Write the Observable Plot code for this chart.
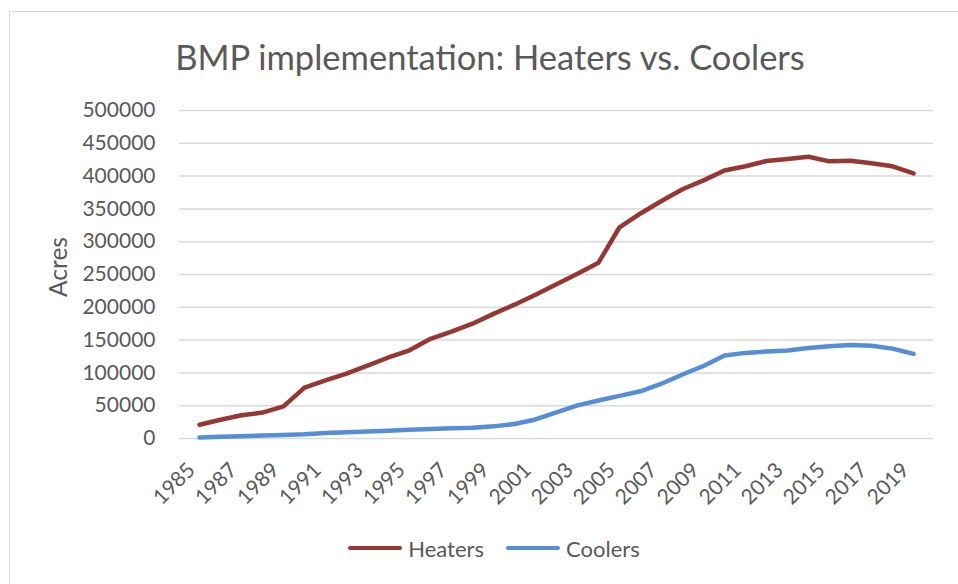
<!DOCTYPE html>
<html>
<head>
<meta charset="utf-8">
<script src="https://cdn.jsdelivr.net/npm/d3@7"></script>
<script src="https://cdn.jsdelivr.net/npm/@observablehq/plot@0.6"></script>
<style>
  html, body { margin: 0; padding: 0; background: #fff; }
  body { width: 958px; height: 584px; overflow: hidden; position: relative; font-family: Lato, sans-serif; color: #595959; }
  #border { position: absolute; left: 9px; top: 11px; width: 1000px; height: 1000px; border: 1px solid #D9D9D9; box-sizing: border-box; }
  #title { position: relative; height: 88px; text-align: center; font-size: 34.5px; line-height: 1; padding-left: 22px; box-sizing: border-box; padding-top: 40px; white-space: nowrap; }
  #chart { position: relative; height: 440px; }
  #legend { position: relative; height: 56px; display: flex; justify-content: center; align-items: center; font-size: 22px; gap: 22px; padding-left: 30px; box-sizing: border-box; padding-bottom: 16px; }
  .item { display: flex; align-items: center; gap: 6px; }
  .sw { display: inline-block; width: 54px; height: 4px; border-radius: 2px; }
  #ylabel { position: absolute; left: 57.5px; top: 267px; font-size: 24.5px; line-height: 1; white-space: nowrap; transform: translate(-50%, -50%) rotate(-90deg); }
</style>
</head>
<body>
<div id="border"></div>
<div id="title">BMP implementation: Heaters vs. Coolers</div>
<div id="chart"></div>
<div id="legend"></div>
<div id="ylabel">Acres</div>
<script>
const years = d3.range(1985, 2020);
const heaters = [21000, 28500, 35500, 39500, 49000, 77500, 88500, 99000, 111000, 123500, 134500, 152000, 163000, 175000, 190000, 204000, 219000, 235000, 251000, 268000, 322000, 343000, 362000, 380000, 393500, 408500, 415000, 423000, 426000, 429500, 422500, 423500, 419500, 415000, 404000];
const coolers = [1500, 2500, 3500, 4500, 5500, 6500, 8500, 9500, 10500, 12000, 13500, 14500, 15500, 16500, 18500, 22000, 29000, 40000, 50500, 58000, 65000, 72000, 83500, 97500, 110500, 126500, 130500, 132500, 134000, 138000, 140500, 142500, 141500, 137000, 129000];
const seriesNames = ["Heaters", "Coolers"];
const seriesColors = ["#953735", "#558ED5"];
const xTickYears = d3.range(1985, 2020, 2);
const yTicks = d3.range(0, 500001, 50000);

const rows = [];
years.forEach((yr, i) => {
  rows.push({year: yr, value: heaters[i], series: seriesNames[0]});
  rows.push({year: yr, value: coolers[i], series: seriesNames[1]});
});

const plot = Plot.plot({
  width: 958,
  height: 440,
  marginLeft: 179,
  marginRight: 25,
  marginTop: 22,
  marginBottom: 90,
  style: {fontFamily: "Lato, sans-serif", color: "#595959", background: "transparent", fontSize: "21px"},
  x: {type: "point", padding: 0.5, domain: years},
  y: {domain: [0, 500000]},
  color: {domain: seriesNames, range: seriesColors},
  marks: [
    Plot.gridY(yTicks, {stroke: "#D9D9D9", strokeOpacity: 1, strokeWidth: 1.5}),
    Plot.axisY(yTicks, {tickSize: 0, tickPadding: 24, fontSize: 21, tickFormat: d => String(d), label: null}),
    Plot.axisX(xTickYears, {tickSize: 0, tickRotate: -45, tickPadding: 28, dx: -8, fontSize: 21, tickFormat: d => String(d), label: null}),
    Plot.line(rows, {x: "year", y: "value", z: "series", stroke: "series", strokeWidth: 4.5, strokeLinecap: "round", strokeLinejoin: "round"})
  ]
});
document.getElementById("chart").appendChild(plot);

const legend = document.getElementById("legend");
seriesNames.forEach((n, i) => {
  const it = document.createElement("div");
  it.className = "item";
  const sw = document.createElement("span");
  sw.className = "sw";
  sw.style.background = seriesColors[i];
  const tx = document.createElement("span");
  tx.textContent = n;
  it.appendChild(sw);
  it.appendChild(tx);
  legend.appendChild(it);
});
</script>
</body>
</html>
